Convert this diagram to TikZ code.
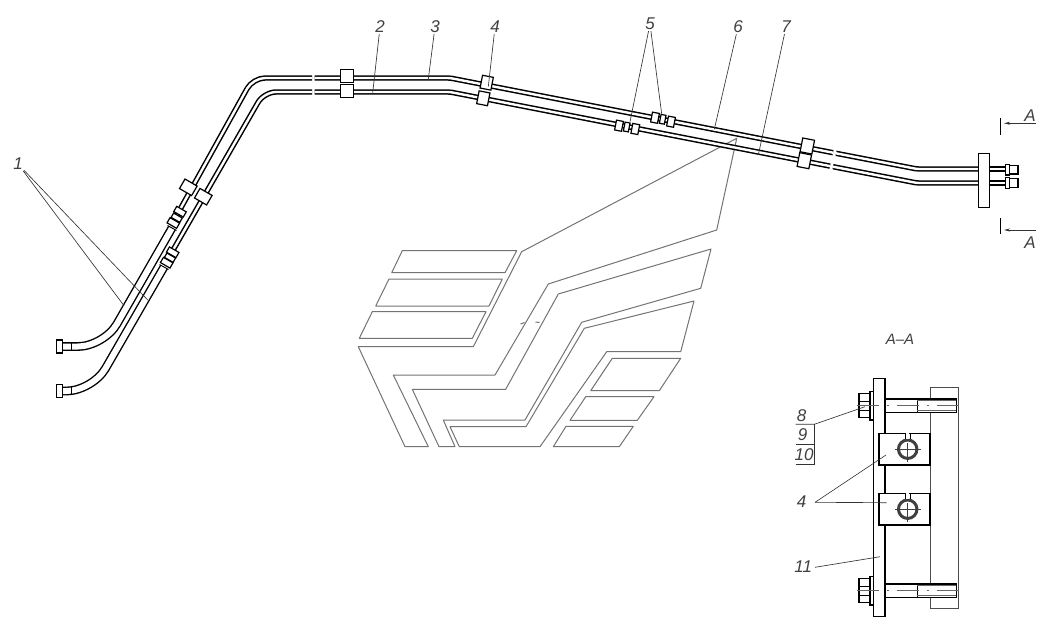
\documentclass[tikz,border=0pt]{standalone}
\usepackage{fontspec}
\setmainfont{Liberation Sans}
\usetikzlibrary{arrows.meta}
\tikzset{
	pipe/.style = {draw=black, line width=1.5pt, double=white, double distance=2.4pt, rounded corners=12pt},
	hose/.style = {draw=black, line width=1.4pt, double=white, double distance=6pt, rounded corners=26pt},
	clampbox/.style = {draw=black, fill=white, line width=1.2pt, minimum width=#1, inner sep=0pt, outer sep=0pt},
	nutbox/.style = {draw=black, fill=white, line width=1.2pt, inner sep=0pt, outer sep=0pt},
	logo/.style = {draw=black!55, line width=1pt, line join=round},
	leader/.style = {draw=black!80, line width=.65pt},
	axisline/.style = {draw=black!60, line width=.5pt, dash pattern=on 22pt off 8pt on 2pt off 8pt},
	lab/.style = {font=\itshape\fontsize{17}{17}\selectfont, text=black!75, inner sep=1pt}
}
\begin{document}
\begin{tikzpicture}[x=1pt, y=-1pt]
		\useasboundingbox (0,0) rectangle (1056,642);
		% emblem
		\begin{scope} [logo]
		\draw (736.7,138.3) -- (521.7,251.7) -- (473.3,346.7) -- (358.3,346.7) -- (405,446.7) -- (428.3,446.7) -- (393.3,375) -- (495,375) -- (548.3,284) -- (716.7,230) -- cycle;
		\draw (558.3,294) -- (711,249) -- (700.7,288.3) -- (581.7,322.3) -- (525,420) -- (443.3,420) -- (455,446.7) -- (439,446.7) -- (412.3,389.3) -- (505.7,389.3) -- cycle;
		\draw (584.3,328.3) -- (694,301) -- (680.7,351.7) -- (606.7,351.7) -- (540,446.7) -- (459.3,446.7) -- (450,426.7) -- (526,426.7) -- cycle;
		\draw (402.3,250.7) -- (516.7,250.7) -- (505,272.7) -- (391.7,272.7) -- cycle;
		\draw (389,279) -- (502.3,279) -- (489,306) -- (375.7,306) -- cycle;
		\draw (372.3,311.7) -- (486,311.7) -- (472.3,338.3) -- (359.3,338.3) -- cycle;
		\draw (612.3,358.3) -- (680.7,358.3) -- (659.3,390.7) -- (590.7,390.7) -- cycle;
		\draw (585.7,396.7) -- (654,396.7) -- (637.3,420.3) -- (570,420.3) -- cycle;
		\draw (566,426.3) -- (633.3,426.3) -- (619.3,446.7) -- (553.3,446.7) -- cycle;
		\draw (520.5,324) -- (524.5,322.5);
		\draw (535.5,322) -- (539.5,322.5);
		\end{scope}
		% pipes
		\draw [pipe] (172.5,223) -- (253,78) -- (312,78);
		\draw [pipe, rounded corners=2pt] (314.5,78) -- (450,78) -- (833,152.7);
		\draw [pipe, rounded corners=2pt] (836,153.3) -- (917,169) -- (979,169);
		\draw [pipe] (165,264) -- (264,92) -- (312,92);
		\draw [pipe, rounded corners=2pt] (314.5,92) -- (450,92) -- (830,166.1);
		\draw [pipe, rounded corners=2pt] (833,166.7) -- (917,183) -- (979,183);
		\draw [pipe] (989,169) -- (1006,169);
		\draw [pipe] (989,183) -- (1006,183);
		\draw [hose] (60,346.5) -- (104,346.5) -- (172,228);
		\draw [hose] (60,391) -- (92.5,391) -- (164,267);
		\draw [line width=.9pt] (71.7,342.5) -- (71.7,350.5);
		\draw [line width=.9pt] (71.7,387) -- (71.7,395);
		\draw [line width=.9pt] (167.5,225.5) -- (176.5,230.5);
		\draw [line width=.9pt] (159.5,264.5) -- (168.5,269.5);
		% clamps
		\foreach \name/\x/\y/\w/\h/\r in {c1/347.3/76/13/13.5/0, c2/347.3/91/13/12.5/0, c3/486.7/82.7/11/13/-11, c4/483.3/98.3/11/13/-11, c5/807.3/146/12/14/-11, c6/804.3/160.7/12/14/-11, c7/188.3/187.3/14/11/-30, c8/203.3/196.7/14/11/-30}
			\node [clampbox=\w pt, minimum height=\h pt, rotate=\r] (\name) at (\x,\y) {};
		% fittings on the pipes
		\foreach \name/\x/\y/\w/\h/\r in {n1/655/117.7/7/10/-11, n2/662.7/119.3/5/9/-11, n3/671/121.7/7/10/-11, n4/619/125.7/7/10/-11, n5/626.7/127/5/9/-11, n6/635.3/129/7/10/-11, n7/180/211.7/11/6/-30, n8/176.7/217.7/10/5/-30, n9/173.3/223/11/6/-30, n10/172.7/252.3/11/6/-30, n11/170/257.7/10/5/-30, n12/166.7/262.7/11/6/-30}
			\node [nutbox, minimum width=\w pt, minimum height=\h pt, rotate=\r] (\name) at (\x,\y) {};
		% hose nuts
		\node [nutbox, minimum width=6pt, minimum height=13pt] (hn1) at (59.5,346.5) {};
		\node [nutbox, minimum width=6pt, minimum height=13pt] (hn2) at (59.5,391) {};
		% flange and pipe ends
		\node [nutbox, line width=1.4pt, minimum width=10.5pt, minimum height=54pt] (flange) at (984,180.3) {};
		\node [nutbox, minimum width=3.6pt, minimum height=10.7pt] (en1) at (1007.5,169.6) {};
		\node [nutbox, minimum width=8.7pt, minimum height=8.3pt] (ep1) at (1013.7,169.8) {};
		\node [nutbox, minimum width=3.6pt, minimum height=11.4pt] (en2) at (1007.5,183) {};
		\node [nutbox, minimum width=8.7pt, minimum height=9pt] (ep2) at (1013.7,182.8) {};
		% section marks
		\coordinate (sa1) at (1035.7,123.3);
		\coordinate (sa2) at (1004,123.3);
		\coordinate (sb1) at (1035.7,230);
		\coordinate (sb2) at (1004,230);
		\draw [line width=1.4pt] (1000.7,118.3) -- (1000.7,135);
		\draw [line width=1.4pt] (1000.7,218.3) -- (1000.7,234.3);
		\draw [-{Stealth[length=6pt,width=3pt]}, leader] (sa1) -- (sa2);
		\draw [-{Stealth[length=6pt,width=3pt]}, leader] (sb1) -- (sb2);
		\node [lab] (la1) at (1030,116) {A};
		\node [lab] (la2) at (1030,243) {A};
		% section A-A
		\draw [draw=black!70, line width=.7pt] (930.3,387.7) rectangle (958.3,608.3);
		\node [nutbox, line width=1.4pt, minimum width=11.3pt, minimum height=238.4pt] (plate) at (879.3,497.5) {};
		\foreach \name/\y in {b1/405.7, b2/590.7} {
			\node [nutbox, minimum width=71.7pt, minimum height=13.4pt] (\name) at (921,\y) {};
			\draw [line width=1.2pt] (917.3,\y-6.7) -- (917.3,\y+6.7);
			\node [nutbox, minimum width=11pt, minimum height=24pt] (\name h) at (864.5,\y) {};
			\node [nutbox, minimum width=3.7pt, minimum height=28.5pt] (\name w) at (871.8,\y) {};
			\draw [line width=.6pt] (859,\y-4.5) -- (870,\y-4.5);
			\draw [line width=.6pt] (859,\y+4.5) -- (870,\y+4.5);
			\draw [draw=black!60, line width=.5pt] (917.3,\y-5) -- (956,\y-5);
			\draw [draw=black!60, line width=.5pt] (917.3,\y+5) -- (956,\y+5);
			\draw [axisline] (856.7,\y) -- (963,\y);
		}
		\foreach \name/\y in {g1/449.2, g2/509.2} {
			\node [nutbox, minimum width=51pt, minimum height=31.7pt] (\name) at (904.5,\y) {};
			\node [draw=black!75, fill=white, line width=3pt, circle, minimum size=18.5pt, inner sep=0pt, outer sep=0pt] (\name c) at (907.7,\y) {};
			\draw [line width=.8pt] (905.5,\y-16) -- (905.5,\y-10);
			\draw [line width=.8pt] (909.9,\y-16) -- (909.9,\y-10);
			\draw [draw=white, line width=3.2pt] (907.7,\y-16.5) -- (907.7,\y-10.5);
			\draw [draw=black!75, line width=.5pt] (895,\y) -- (921,\y);
			\draw [draw=black!75, line width=.5pt] (907.7,\y-6) -- (907.7,\y+13);
		}
		% labels and leaders
		\node [lab] (l1) at (18,164) {1};
		\node [lab] (l2) at (380,27) {2};
		\node [lab] (l3) at (435,27) {3};
		\node [lab] (l4) at (495,27) {4};
		\node [lab] (l5) at (650,24) {5};
		\node [lab] (l6) at (738,27) {6};
		\node [lab] (l7) at (786,27) {7};
		\node [lab, font=\itshape\fontsize{15}{15}\selectfont] (lsec) at (900,339) {A--A};
		\node [lab] (l8) at (801.7,415.7) {8};
		\node [lab] (l9) at (802.7,435) {9};
		\node [lab] (l10) at (804,455) {10};
		\node [lab] (l4b) at (801.7,501.7) {4};
		\node [lab] (l11) at (803.3,566.7) {11};
		\coordinate (p1a) at (124,305.7);
		\coordinate (p1b) at (147.7,300);
		\coordinate (p2) at (372.7,92.7);
		\coordinate (p3) at (428.3,79);
		\coordinate (p4) at (488.3,86.7);
		\coordinate (p5a) at (630,121.7);
		\coordinate (p5b) at (661.7,114);
		\coordinate (p6) at (714.3,129.3);
		\coordinate (p7) at (758.3,155);
		\coordinate (p8) at (865,406.7);
		\coordinate (p4a) at (886,455);
		\coordinate (p4c) at (886.7,502.7);
		\coordinate (p11) at (880,556.7);
		\coordinate (s4) at (815,502.3);
		\coordinate (s8) at (814.3,424.3);
		\coordinate (s10) at (814.3,464);
		\coordinate (s11) at (815,567.3);
		\begin{scope} [leader]
		\draw (l1) -- (p1a);
		\draw (l1) -- (p1b);
		\draw (l2) -- (p2);
		\draw (l3) -- (p3);
		\draw (l4) -- (p4);
		\draw (l5) -- (p5a);
		\draw (l5) -- (p5b);
		\draw (l6) -- (p6);
		\draw (l7) -- (p7);
		\draw (795.7,424.3) -- (s8) -- (p8);
		\draw (795.7,444.3) -- (814.3,444.3);
		\draw (795.7,464) -- (s10) -- (s8);
		\draw (s4) -- (p4a);
		\draw (s4) -- (p4c);
		\draw (s11) -- (p11);
		\end{scope}
\end{tikzpicture}
\end{document}
